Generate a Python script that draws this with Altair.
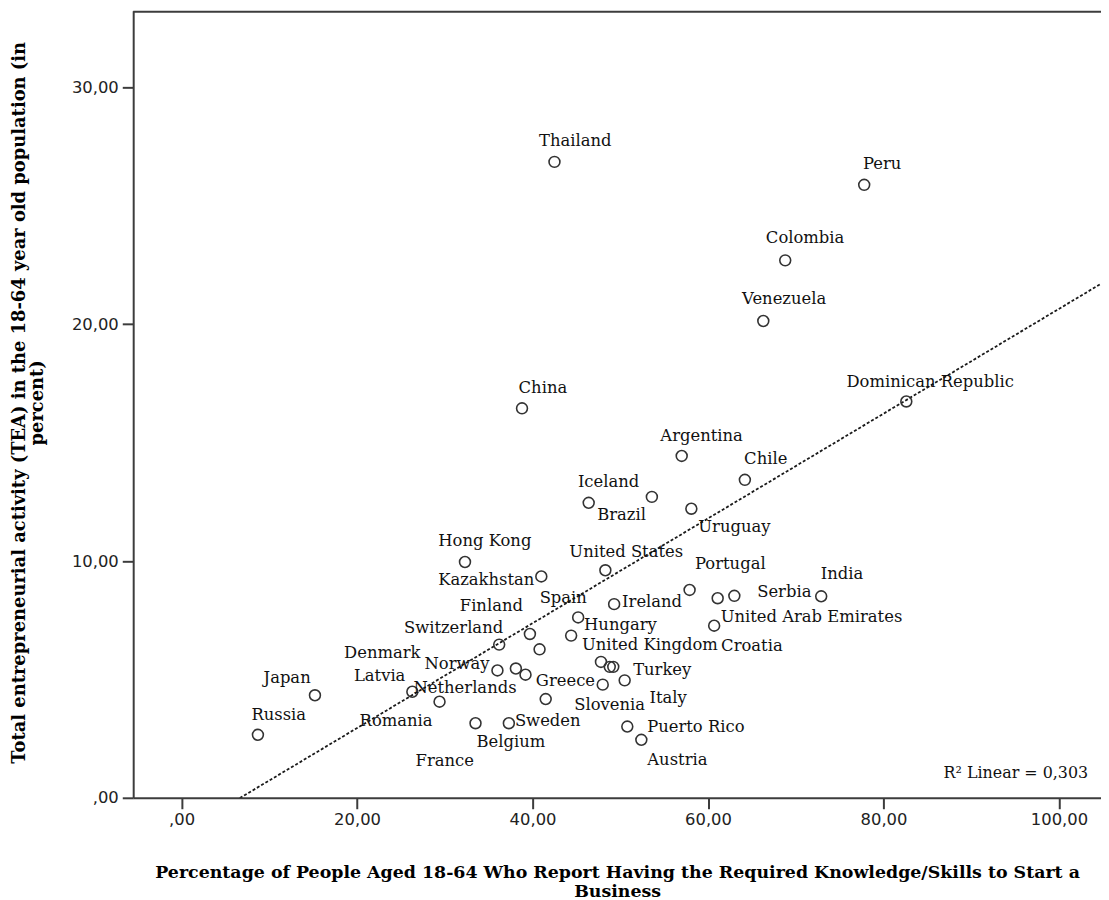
import altair as alt
import pandas as pd

countries = ["Thailand", "Peru", "Colombia", "Venezuela", "Dominican Republic", "China",
             "Argentina", "Chile", "Iceland", "Brazil", "Uruguay", "Hong Kong", "Kazakhstan",
             "United States", "Portugal", "Ireland", "India", "Serbia", "United Arab Emirates",
             "Croatia", "Spain", "Hungary", "Finland", "Switzerland", "Israel", "Norway",
             "Denmark", "Netherlands", "Latvia", "Romania", "Sweden", "France", "Belgium",
             "Greece", "United Kingdom", "Turkey", "Italy", "Slovenia", "Puerto Rico",
             "Austria", "Japan", "Russia"]
skills = [42.5, 77.8, 68.8, 66.3, 82.6, 38.8, 57.0, 64.2, 46.4, 53.6, 58.1, 32.3, 41.0,
          48.3, 57.9, 49.3, 72.9, 63.0, 61.1, 60.7, 45.2, 44.4, 39.7, 36.2, 40.8, 36.0,
          38.1, 39.2, 26.3, 29.4, 41.5, 33.5, 37.3, 47.8, 48.8, 49.2, 50.5, 48.0, 50.8,
          52.4, 15.2, 8.7]
tea = [26.86, 25.89, 22.70, 20.14, 16.74, 16.45, 14.44, 13.43, 12.46, 12.71, 12.21, 9.96,
       9.35, 9.61, 8.78, 8.18, 8.51, 8.53, 8.43, 7.27, 7.62, 6.85, 6.92, 6.47, 6.27, 5.38,
       5.46, 5.20, 4.48, 4.06, 4.17, 3.15, 3.15, 5.74, 5.53, 5.53, 4.96, 4.78, 3.01, 2.45,
       4.33, 2.66]

x_ticks = [0, 20, 40, 60, 80, 100]
y_ticks = [0, 10, 20, 30]
x_title = ["Percentage of People Aged 18-64 Who Report Having the Required Knowledge/Skills to Start a",
           "Business"]
y_title = ["Total entrepreneurial activity (TEA) in the 18-64 year old population (in",
           "percent)"]
r2_text = ["R\u00b2 Linear = 0,303"]

# label placement (style): align, dx, dy in pixels relative to the point
label_style = {
    "Thailand": ("center", 21, -21), "Peru": ("center", 18, -21),
    "Colombia": ("center", 20, -22), "Venezuela": ("center", 21, -22),
    "Dominican Republic": ("center", 24, -20), "China": ("center", 21, -20),
    "Argentina": ("center", 20, -20), "Chile": ("center", 21, -21),
    "Iceland": ("center", 20, -21), "Brazil": ("right", -6, 18),
    "Uruguay": ("left", 7, 18), "Hong Kong": ("center", 20, -21),
    "Kazakhstan": ("right", -7, 4), "United States": ("center", 21, -18),
    "Portugal": ("center", 41, -26), "Ireland": ("left", 8, -2),
    "India": ("center", 21, -22), "Serbia": ("left", 23, -4),
    "United Arab Emirates": ("left", 3, 19), "Croatia": ("left", 7, 20),
    "Spain": ("center", -15, -19), "Hungary": ("left", 13, -11),
    "Finland": ("right", -7, -28), "Switzerland": ("right", 4, -17),
    "United Kingdom": ("left", -28, -22), "Denmark": ("right", -96, -16),
    "Norway": ("right", -8, -6), "Latvia": ("right", -7, -16),
    "Netherlands": ("right", -9, 13), "Romania": ("right", -7, 19),
    "Greece": ("right", -6, 19), "Turkey": ("left", 20, 3),
    "Italy": ("left", 25, 18), "Slovenia": ("center", 7, 21),
    "Sweden": ("left", -31, 22), "Belgium": ("center", 2, 19),
    "France": ("center", -31, 38), "Puerto Rico": ("left", 20, 0),
    "Austria": ("left", 6, 20), "Japan": ("center", -28, -17),
    "Russia": ("center", 21, -20),
}

df = pd.DataFrame({"country": countries, "skills": skills, "tea": tea})

W, H = 974, 792
AX = "#3c3c3c"
LABEL_FONT = "DejaVu Serif"
xscale = alt.Scale(domain=[-5.515, 104.79], nice=False, zero=False)
yscale = alt.Scale(domain=[0, 33.24], nice=False, zero=False)
lab_expr = "datum.value == 0 ? ',00' : replace(format(datum.value, '.2f'), '.', ',')"

x_axis = alt.Axis(values=x_ticks, labelExpr=lab_expr, title=x_title, grid=False,
                  titleY=80, titleBaseline="alphabetic", titleFontSize=17.5,
                  titleLineHeight=19, labelPadding=3)
y_axis = alt.Axis(values=y_ticks, labelExpr=lab_expr, title=y_title, grid=False,
                  titleX=-109, titleY=394, titleAngle=270, titleAlign="center",
                  titleBaseline="alphabetic", titleFontSize=18, titleLineHeight=18,
                  labelPadding=4)

base = alt.Chart(df)

points = base.mark_point(shape="circle", filled=False, size=120, stroke="#333333",
                         strokeWidth=1.6, opacity=1).encode(
    x=alt.X("skills:Q", scale=xscale, axis=x_axis),
    y=alt.Y("tea:Q", scale=yscale, axis=y_axis),
    tooltip=["country:N", "skills:Q", "tea:Q"],
)

trend = base.transform_regression("skills", "tea", extent=[-6, 106]).mark_line(
    clip=True, strokeDash=[3, 2], color="#1a1a1a", strokeWidth=1.8).encode(
    x=alt.X("skills:Q", scale=xscale),
    y=alt.Y("tea:Q", scale=yscale),
)

layers = [trend, points]
for name, (align, dx, dy) in label_style.items():
    layers.append(
        base.transform_filter(alt.datum.country == name).mark_text(
            align=align, baseline="middle", dx=dx, dy=dy, font=LABEL_FONT,
            fontSize=16.5, color="#111111").encode(
            x=alt.X("skills:Q", scale=xscale),
            y=alt.Y("tea:Q", scale=yscale),
            text="country:N",
        )
    )

frame_top = alt.Chart(pd.DataFrame({"k": [0]})).mark_rule(color=AX, strokeWidth=2).encode(
    x=alt.value(0), x2=alt.value(W), y=alt.value(1))

r2 = alt.Chart(pd.DataFrame({"t": r2_text})).mark_text(
    align="right", baseline="alphabetic", font=LABEL_FONT, fontSize=16,
    color="#111111").encode(x=alt.value(961), y=alt.value(772), text="t:N")

chart = alt.layer(*layers, frame_top, r2).properties(
    width=W, height=H,
    autosize=alt.AutoSizeParams(type="none"),
    padding={"left": 126, "top": 0, "right": 0, "bottom": 100},
    background="white",
).configure_view(stroke=None).configure_axis(
    domainColor=AX, domainWidth=2, tickColor=AX, tickWidth=2, tickSize=11,
    labelFont="DejaVu Sans", labelFontSize=16.5, labelColor="#222222",
    titleFont="DejaVu Serif", titleFontWeight="bold", titleColor="#000000",
)

chart.save("out.html", embed_options={"renderer": "svg", "actions": False})
